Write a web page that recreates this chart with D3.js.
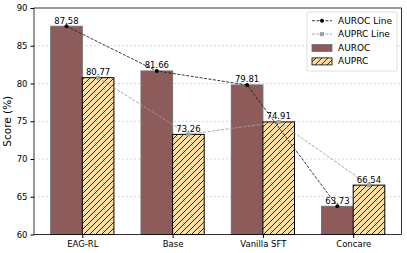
<!DOCTYPE html>
<html>
<head>
<meta charset="utf-8">
<script src="https://cdn.jsdelivr.net/npm/d3@7"></script>
<style>
  body { margin: 0; background: #fff; }
  svg text { font-family: "DejaVu Sans", sans-serif; }
</style>
</head>
<body>
<svg id="chart" width="407" height="253"></svg>
<script>
var methods = ["EAG-RL", "Base", "Vanilla SFT", "Concare"];
var auroc = [87.58, 81.66, 79.81, 63.73];
var auprc = [80.77, 73.26, 74.91, 66.54];
var yTicks = [60, 65, 70, 75, 80, 85, 90];

var svg = d3.select("#chart");
var plotL = 34, plotR = 401.5, plotT = 8, plotB = 234.5;
var barW = 0.35;

var x = d3.scaleLinear().domain([-0.535, 3.535]).range([plotL, plotR]);
var y = d3.scaleLinear().domain([60, 90]).range([plotB, plotT]);

// hatch pattern
var defs = svg.append("defs");
var pat = defs.append("pattern")
    .attr("id", "hatch")
    .attr("patternUnits", "userSpaceOnUse")
    .attr("width", 6).attr("height", 6);
pat.append("rect").attr("width", 6).attr("height", 6).attr("fill", "#fddfa4");
pat.append("path").attr("d", "M-1,1 l2,-2 M0,6 l6,-6 M5,7 l2,-2")
    .attr("stroke", "#111").attr("stroke-width", 0.9);

// grid
svg.append("g").selectAll("line")
    .data(yTicks.filter(function (d) { return d > 60 && d < 90; }))
    .enter().append("line")
    .attr("x1", plotL).attr("x2", plotR)
    .attr("y1", function (d) { return y(d); })
    .attr("y2", function (d) { return y(d); })
    .attr("stroke", "#cfcfcf")
    .attr("stroke-width", 0.8)
    .attr("stroke-dasharray", "2,2");

// bars
svg.append("g").selectAll("rect")
    .data(auroc).enter().append("rect")
    .attr("x", function (d, i) { return x(i - barW); })
    .attr("y", function (d) { return y(d); })
    .attr("width", function (d, i) { return x(i) - x(i - barW); })
    .attr("height", function (d) { return plotB - y(d); })
    .attr("fill", "#8e5b5b")
    .attr("stroke", "#6e6e6e")
    .attr("stroke-width", 1);

svg.append("g").selectAll("rect")
    .data(auprc).enter().append("rect")
    .attr("x", function (d, i) { return x(i); })
    .attr("y", function (d) { return y(d); })
    .attr("width", function (d, i) { return x(i + barW) - x(i); })
    .attr("height", function (d) { return plotB - y(d); })
    .attr("fill", "url(#hatch)")
    .attr("stroke", "#000")
    .attr("stroke-width", 1);

// lines
var lineA = d3.line()
    .x(function (d, i) { return x(i - barW / 2); })
    .y(function (d) { return y(d); });
var lineP = d3.line()
    .x(function (d, i) { return x(i + barW / 2); })
    .y(function (d) { return y(d); });

svg.append("path").datum(auprc)
    .attr("d", lineP).attr("fill", "none")
    .attr("stroke", "#a0a0a0").attr("stroke-width", 0.9)
    .attr("stroke-dasharray", "3,1.5");
svg.append("g").selectAll("rect")
    .data(auprc).enter().append("rect")
    .attr("x", function (d, i) { return x(i + barW / 2) - 2; })
    .attr("y", function (d) { return y(d) - 2; })
    .attr("width", 4).attr("height", 4)
    .attr("fill", "#a0a0a0");

svg.append("path").datum(auroc)
    .attr("d", lineA).attr("fill", "none")
    .attr("stroke", "#222").attr("stroke-width", 0.9)
    .attr("stroke-dasharray", "3,1.5");
svg.append("g").selectAll("circle")
    .data(auroc).enter().append("circle")
    .attr("cx", function (d, i) { return x(i - barW / 2); })
    .attr("cy", function (d) { return y(d); })
    .attr("r", 2).attr("fill", "#000");

// value labels
svg.append("g").selectAll("text")
    .data(auroc).enter().append("text")
    .attr("x", function (d, i) { return x(i - barW / 2); })
    .attr("y", function (d) { return y(d) - 2.5; })
    .attr("text-anchor", "middle")
    .attr("font-size", 8.5)
    .text(function (d) { return d.toFixed(2); });
svg.append("g").selectAll("text")
    .data(auprc).enter().append("text")
    .attr("x", function (d, i) { return x(i + barW / 2); })
    .attr("y", function (d) { return y(d) - 2.5; })
    .attr("text-anchor", "middle")
    .attr("font-size", 8.5)
    .text(function (d) { return d.toFixed(2); });

// axes
var yAxis = d3.axisLeft(y).tickValues(yTicks).tickSize(3.5).tickPadding(3);
var gy = svg.append("g").attr("transform", "translate(" + plotL + ",0)").call(yAxis);
gy.selectAll("text").attr("font-size", 8.5).attr("font-family", "DejaVu Sans");

var xAxis = d3.axisBottom(x).tickValues([0, 1, 2, 3])
    .tickFormat(function (d) { return methods[d]; }).tickSize(3.5).tickPadding(3);
var gx = svg.append("g").attr("transform", "translate(0," + plotB + ")").call(xAxis);
gx.selectAll("text").attr("font-size", 8.5).attr("font-family", "DejaVu Sans");
gx.select(".domain").remove();
gy.select(".domain").remove();

// frame
svg.append("rect")
    .attr("x", plotL).attr("y", plotT)
    .attr("width", plotR - plotL).attr("height", plotB - plotT)
    .attr("fill", "none").attr("stroke", "#000").attr("stroke-width", 0.8);

svg.append("text")
    .attr("transform", "translate(11," + ((plotT + plotB) / 2) + ") rotate(-90)")
    .attr("text-anchor", "middle")
    .attr("font-size", 10.5)
    .text("Score (%)");

// legend
var lg = svg.append("g").attr("transform", "translate(307,12)");
lg.append("rect").attr("width", 90).attr("height", 59)
    .attr("rx", 2).attr("fill", "#fff").attr("fill-opacity", 0.8)
    .attr("stroke", "#d6d6d6").attr("stroke-width", 0.8);
var items = ["AUROC Line", "AUPRC Line", "AUROC", "AUPRC"];
items.forEach(function (name, i) {
    var cy = 8.7 + i * 13.4;
    var g = lg.append("g").attr("transform", "translate(0," + cy + ")");
    if (i === 0 || i === 1) {
        var c = i === 0 ? "#222" : "#a0a0a0";
        g.append("line").attr("x1", 5).attr("x2", 25).attr("y1", 0).attr("y2", 0)
            .attr("stroke", c).attr("stroke-width", 0.9).attr("stroke-dasharray", "3,1.5");
        if (i === 0) g.append("circle").attr("cx", 15).attr("cy", 0).attr("r", 2).attr("fill", "#000");
        else g.append("rect").attr("x", 13).attr("y", -2).attr("width", 4).attr("height", 4).attr("fill", c);
    } else {
        g.append("rect").attr("x", 5).attr("y", -3).attr("width", 20).attr("height", 7)
            .attr("fill", i === 2 ? "#8e5b5b" : "url(#hatch)")
            .attr("stroke", i === 2 ? "#6e6e6e" : "#000").attr("stroke-width", 0.8);
    }
    g.append("text").attr("x", 31).attr("y", 3.3)
        .attr("font-size", 9).text(name);
});
</script>
</body>
</html>
